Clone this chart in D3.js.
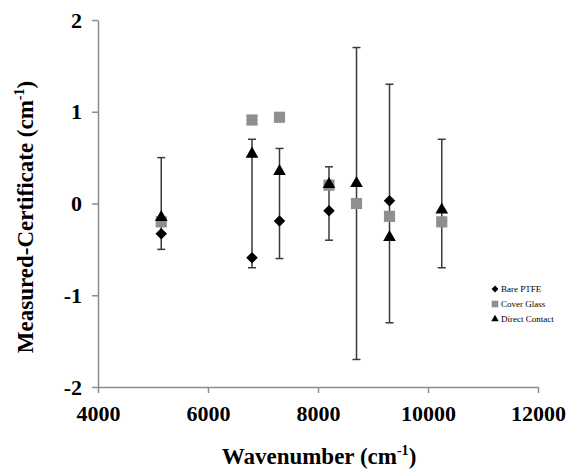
<!DOCTYPE html>
<html>
<head>
<meta charset="utf-8">
<script src="https://cdn.jsdelivr.net/npm/d3@7"></script>
<style>
	body { margin: 0; background: #fff; }
	svg { display: block; font-family: "Liberation Serif", "Times New Roman", serif; }
	.axis path, .axis line { stroke: #8c8c8c; stroke-width: 1.5; }
	.axis text { font-family: "Liberation Serif", "Times New Roman", serif; font-size: 22px; font-weight: bold; fill: #000; }
	.title { font-size: 23px; font-weight: bold; fill: #000; }
	.legend text { font-size: 9px; fill: #000; }
</style>
</head>
<body>
<svg></svg>
<script>
const wavenumbers = [5150, 6800, 7300, 8200, 8700, 9300, 10250];
const barePTFE = [-0.33, -0.59, -0.19, -0.08, null, 0.03, null];
const coverGlass = [-0.20, 0.91, 0.94, 0.20, 0.00, -0.14, -0.20];
const directContact = [-0.15, 0.54, 0.35, 0.21, 0.22, -0.37, -0.07];
const uncertainty = [0.5, 0.7, 0.6, 0.4, 1.7, 1.3, 0.7];
const xTicks = [4000, 6000, 8000, 10000, 12000];
const yTicks = [-2, -1, 0, 1, 2];

const width = 568;
const height = 475;

const svg = d3.select('svg')
	.attr('width', width)
	.attr('height', height);

const xScale = d3.scaleLinear().domain([4000, 12000]).range([98, 538]);
const yScale = d3.scaleLinear().domain([-2, 2]).range([387, 20]);

const yAxis = d3.axisLeft(yScale)
	.tickValues(yTicks)
	.tickFormat(d => String(d))
	.tickSize(6)
	.tickSizeOuter(0)
	.tickPadding(10);

const xAxis = d3.axisBottom(xScale)
	.tickValues(xTicks)
	.tickFormat(d => String(d))
	.tickSize(6)
	.tickSizeOuter(0)
	.tickPadding(12);

svg.append('g')
	.attr('class', 'axis')
	.attr('transform', `translate(${xScale(4000)},0)`)
	.call(yAxis);

svg.append('g')
	.attr('class', 'axis')
	.attr('transform', `translate(0,${yScale(-2)})`)
	.call(xAxis);

// error bars (symmetric about zero)
const bars = svg.append('g')
	.attr('stroke', '#3a3a3a')
	.attr('stroke-width', 1.5);

wavenumbers.forEach((w, i) => {
	const x = xScale(w);
	const y1 = yScale(uncertainty[i]);
	const y2 = yScale(-uncertainty[i]);
	bars.append('line').attr('x1', x).attr('x2', x).attr('y1', y1).attr('y2', y2);
	bars.append('line').attr('x1', x - 4).attr('x2', x + 4).attr('y1', y1).attr('y2', y1);
	bars.append('line').attr('x1', x - 4).attr('x2', x + 4).attr('y1', y2).attr('y2', y2);
});

const series = [
	{ name: 'Bare PTFE', values: barePTFE, symbol: d3.symbolSquare, size: 66, rotate: 45, color: '#000' },
	{ name: 'Cover Glass', values: coverGlass, symbol: d3.symbolSquare, size: 125, rotate: 0, color: '#8f8f8f' },
	{ name: 'Direct Contact', values: directContact, symbol: d3.symbolTriangle, size: 70, rotate: 0, color: '#000' }
];

series.forEach(s => {
	const points = wavenumbers
		.map((w, i) => ({ x: w, y: s.values[i] }))
		.filter(d => d.y !== null);
	svg.append('g').selectAll('path').data(points)
		.enter().append('path')
			.attr('d', d3.symbol().type(s.symbol).size(s.size))
			.attr('fill', s.color)
			.attr('transform', d => `translate(${xScale(d.x)},${yScale(d.y)}) rotate(${s.rotate})`);
});

// axis titles
const xTitle = svg.append('text')
	.attr('class', 'title')
	.attr('x', 319)
	.attr('y', 464)
	.attr('text-anchor', 'middle');
xTitle.append('tspan').text('Wavenumber (cm');
xTitle.append('tspan').attr('dy', -9).attr('font-size', 14).text('-1');
xTitle.append('tspan').attr('dy', 9).text(')');

const yTitle = svg.append('text')
	.attr('class', 'title')
	.attr('transform', 'translate(33,217) rotate(-90)')
	.attr('text-anchor', 'middle');
yTitle.append('tspan').text('Measured-Certificate (cm');
yTitle.append('tspan').attr('dy', -9).attr('font-size', 14).text('-1');
yTitle.append('tspan').attr('dy', 9).text(')');

// legend
const legend = svg.append('g')
	.attr('class', 'legend')
	.attr('transform', 'translate(495,289)');

series.forEach((s, i) => {
	const row = legend.append('g').attr('transform', `translate(0,${i * 15})`);
	row.append('path')
		.attr('d', d3.symbol().type(s.symbol).size(s.size * 0.35))
		.attr('fill', s.color)
		.attr('transform', `rotate(${s.rotate})`);
	row.append('text')
		.attr('x', 6)
		.attr('y', 3)
		.text(s.name);
});
</script>
</body>
</html>
